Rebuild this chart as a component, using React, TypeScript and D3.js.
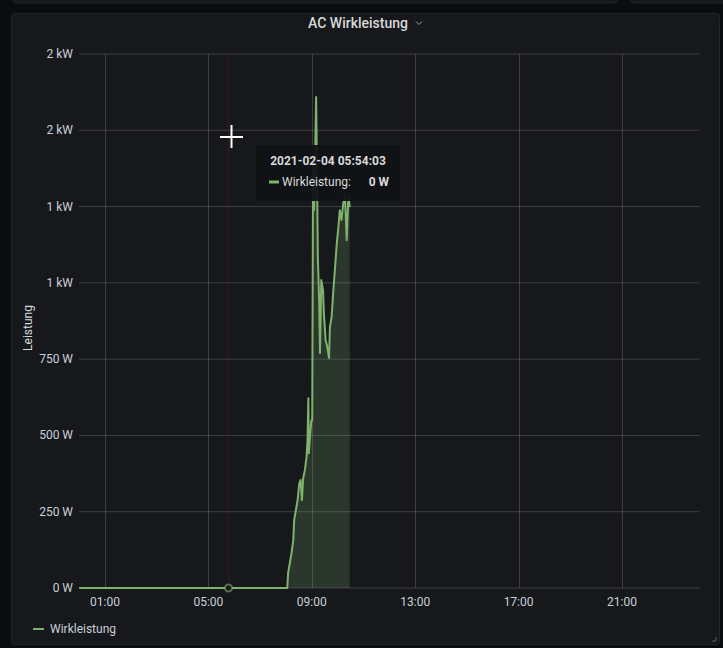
import React from "react";
import * as d3 from "d3";

// ---- data ----
const TIMES = [
  "00:00", "08:03", "08:05", "08:09", "08:13", "08:17", "08:19", "08:23", "08:27", "08:31",
  "08:34", "08:37", "08:40", "08:44", "08:48", "08:50", "08:52", "08:53", "08:57", "08:59",
  "09:01", "09:03", "09:05", "09:07", "09:10", "09:12", "09:14", "09:17", "09:19", "09:22",
  "09:26", "09:28", "09:32", "09:35", "09:40", "09:42", "09:46", "09:50", "09:54", "09:58",
  "10:01", "10:05", "10:09", "10:13", "10:17", "10:21", "10:25", "10:28",
];
const WATTS = [
  0, 0, 49, 82, 115, 157, 223, 255, 288, 344,
  354, 288, 360, 387, 432, 485, 622, 442, 518, 550,
  550, 1402, 1238, 1353, 1609, 1370, 1085, 944, 770, 1009,
  976, 901, 813, 796, 754, 855, 888, 976, 1052, 1130,
  1173, 1238, 1206, 1261, 1288, 1140, 1288, 1248,
];
const Y_TICKS = [0, 250, 500, 750, 1000, 1250, 1500, 1750];
const Y_TICK_LABELS = ["0 W", "250 W", "500 W", "750 W", "1 kW", "1 kW", "2 kW", "2 kW"];
const X_TICK_HOURS = [1, 5, 9, 13, 17, 21];
const X_TICK_LABELS = ["01:00", "05:00", "09:00", "13:00", "17:00", "21:00"];
const TITLE = "AC Wirkleistung";
const SERIES_NAME = "Wirkleistung";
const Y_LABEL = "Leistung";
const HOVER_TIME = "05:45";
const TOOLTIP_TIME = "2021-02-04 05:54:03";
const TOOLTIP_VALUE = "0 W";

const day = (hhmm: string) => {
  const [h, m] = hhmm.split(":").map(Number);
  return new Date(2021, 1, 4, h, m);
};

const GREEN = "#7eb26d";
const FONT = "Roboto, 'Noto Sans', sans-serif";

export default function App() {
  const W = 723, H = 648;
  const left = 79.2, right = 699.5, top = 54, bottom = 588;
  const x = d3.scaleTime().domain([new Date(2021, 1, 4, 0, 0), new Date(2021, 1, 5, 0, 0)]).range([left, right]);
  const y = d3.scaleLinear().domain([0, 1750]).range([bottom, top]);
  const pts = TIMES.map((t, i) => ({ t: day(t), v: WATTS[i] }));
  const line = d3.line<any>().x((d) => x(d.t)).y((d) => y(d.v));
  const area = d3.area<any>().x((d) => x(d.t)).y0(y(0)).y1((d) => y(d.v));
  const hx = Math.round(x(day(HOVER_TIME))) + 0.5;

  return (
    <div style={{ position: "fixed", left: 0, top: 0, width: W, height: H }}>
      <svg width={W} height={H} style={{ display: "block" }} fontFamily={FONT}>
        <rect x={0} y={0} width={W} height={H} fill="#0b0c0e" />
        {/* panels above */}
        <rect x={13} y={-20} width={604} height={23} rx={3} fill="#17181c" stroke="#202226" />
        <rect x={631} y={-20} width={120} height={23} rx={3} fill="#17181c" stroke="#202226" />
        {/* panel */}
        <rect x={11.5} y={13.5} width={708} height={631} rx={3} fill="#17181c" stroke="#222428" />
        {/* title */}
        <text x={358} y={28} textAnchor="middle" fontSize={14} fontWeight={500} fill="#d8d9da">{TITLE}</text>
        <path d="M416,21.5 L419,24.5 L422,21.5" fill="none" stroke="#9fa3a8" strokeWidth={1} />

        {/* grid */}
        {Y_TICKS.map((t) => (
          <line key={"gy" + t} x1={left} x2={right} y1={y(t)} y2={y(t)} stroke="rgba(255,255,255,0.17)" strokeWidth={1} />
        ))}
        {X_TICK_HOURS.map((h) => {
          const xx = Math.round(x(new Date(2021, 1, 4, h, 0))) + 0.5;
          return <line key={"gx" + h} x1={xx} x2={xx} y1={top} y2={bottom} stroke="rgba(255,255,255,0.17)" strokeWidth={1} />;
        })}

        {/* y labels */}
        {Y_TICKS.map((t, i) => (
          <text key={"yl" + t} x={73} y={y(t) + 4} textAnchor="end" fontSize={12} fill="#c7d0d9">{Y_TICK_LABELS[i]}</text>
        ))}
        <text transform={`translate(32,328) rotate(-90)`} textAnchor="middle" fontSize={12} fill="#d8d9da">{Y_LABEL}</text>

        {/* x labels */}
        {X_TICK_HOURS.map((h, i) => (
          <text key={"xl" + h} x={x(new Date(2021, 1, 4, h, 0))} y={606} textAnchor="middle" fontSize={12} fill="#c7d0d9">{X_TICK_LABELS[i]}</text>
        ))}

        {/* series */}
        <path d={area(pts) || ""} fill={GREEN} fillOpacity={0.2} />
        <path d={line(pts) || ""} fill="none" stroke={GREEN} strokeWidth={2} strokeLinejoin="round" />

        {/* crosshair */}
        <line x1={hx} x2={hx} y1={top} y2={bottom} stroke="rgba(150,10,10,0.35)" strokeWidth={1} />
        <circle cx={hx} cy={y(0)} r={3.5} fill="#17181c" stroke={GREEN} strokeOpacity={0.6} strokeWidth={2} />

        {/* tooltip */}
        <rect x={256} y={145} width={144} height={56} rx={2} fill="#111215" opacity={0.95} />
        <text x={328} y={165} textAnchor="middle" fontSize={12} fontWeight={700} fill="#d8d9da">{TOOLTIP_TIME}</text>
        <line x1={269} x2={279} y1={182} y2={182} stroke={GREEN} strokeWidth={3} />
        <text x={282} y={186} fontSize={12} fill="#d8d9da">{SERIES_NAME + ":"}</text>
        <text x={389} y={186} textAnchor="end" fontSize={12} fontWeight={700} fill="#d8d9da">{TOOLTIP_VALUE}</text>

        {/* mouse cursor */}
        <line x1={220} x2={243} y1={137} y2={137} stroke="#ffffff" strokeWidth={2} />
        <line x1={231.5} x2={231.5} y1={125} y2={148} stroke="#ffffff" strokeWidth={2} />

        {/* legend */}
        <line x1={33} x2={44} y1={629} y2={629} stroke={GREEN} strokeWidth={2} />
        <text x={50} y={633} fontSize={12} fill="#c7d0d9">{SERIES_NAME}</text>

        {/* resize handle */}
        <path d="M712,641 L716,641 L716,637" fill="none" stroke="#5a5d63" strokeWidth={1} />
      </svg>
    </div>
  );
}
